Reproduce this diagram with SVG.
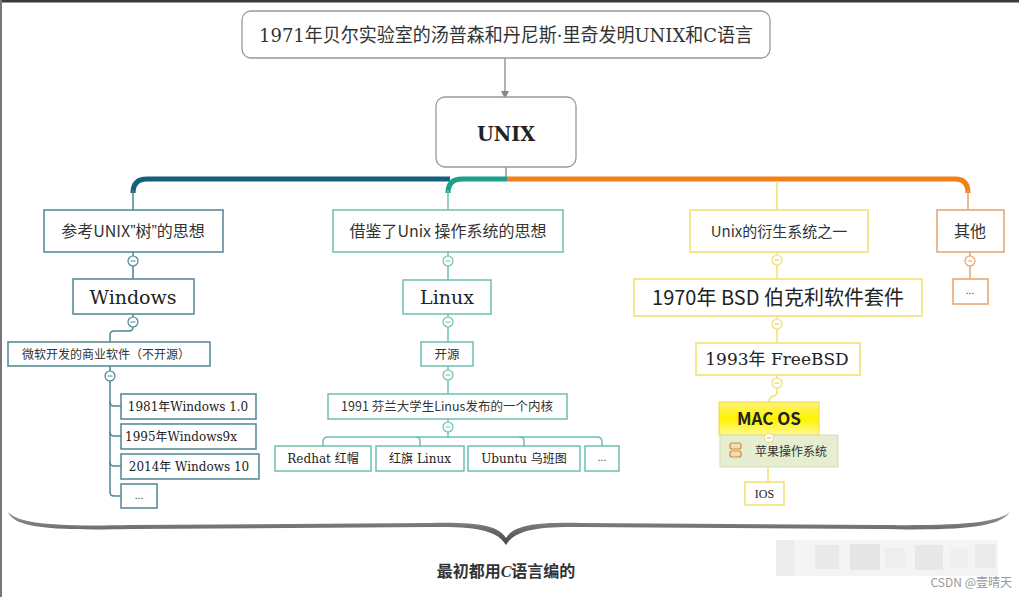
<svg xmlns="http://www.w3.org/2000/svg" width="1019" height="597" viewBox="0 0 1019 597">
<defs>
<style>
.cjk{font-family:"Noto Sans CJK SC","Noto Sans",sans-serif;fill:#333;}
.slab{font-family:"DejaVu Serif","Noto Sans CJK SC",serif;fill:#222;}
.n1{fill:#fff;stroke:#4d8593;stroke-width:1.5;}
.n2{fill:#fff;stroke:#6ebfb2;stroke-width:1.5;}
.n3{fill:#fff;stroke:#f2df6a;stroke-width:1.5;}
.n4{fill:#fff;stroke:#e6a36a;stroke-width:1.5;}
.c1{fill:none;stroke:#4d8593;stroke-width:1.5;}
.c2{fill:none;stroke:#6ebfb2;stroke-width:1.5;}
.c3{fill:none;stroke:#f2df6a;stroke-width:1.5;}
.c4{fill:none;stroke:#e6a36a;stroke-width:1.5;}
.dot{fill:#fff;stroke-width:1.2;}
</style>
<linearGradient id="macg" x1="0" y1="0" x2="0" y2="1">
<stop offset="0" stop-color="#fff27a"/><stop offset="0.5" stop-color="#fff200"/><stop offset="1" stop-color="#fffa90"/>
</linearGradient>
<linearGradient id="braceg" x1="0" y1="0" x2="0" y2="1">
<stop offset="0" stop-color="#9a9a9a"/><stop offset="1" stop-color="#444"/>
</linearGradient>
<marker id="arr" markerWidth="10" markerHeight="10" refX="5" refY="5" orient="auto" markerUnits="userSpaceOnUse">
<path d="M1,1 L9,5 L1,9 Z" fill="#888"/>
</marker>
</defs>
<rect width="1019" height="597" fill="#fff"/>
<rect x="0" y="0" width="1019" height="2.5" fill="#3a3a3a"/>
<rect x="0" y="0" width="2" height="597" fill="#777"/>

<g id="connectors">
<line x1="505" y1="58" x2="505" y2="95" stroke="#888" stroke-width="1.3" marker-end="url(#arr)"/>
<line x1="506" y1="167" x2="506" y2="180" stroke="#777" stroke-width="1.2"/>
<path d="M133,193 Q133,179 147,179 H450" fill="none" stroke="#165f7f" stroke-width="5"/>
<path d="M448,193 Q448,179 462,179 H507" fill="none" stroke="#1ea08b" stroke-width="5"/>
<path d="M507,179 H955 Q968,179 968,193" fill="none" stroke="#f27f18" stroke-width="5"/>
<line x1="133" y1="190" x2="133" y2="210" class="c1"/>
<line x1="448" y1="190" x2="448" y2="210" class="c2"/>
<line x1="777" y1="181" x2="777" y2="210" class="c3"/>
<line x1="968" y1="190" x2="968" y2="210" class="c4"/>
<line x1="133" y1="252" x2="133" y2="279" class="c1"/>
<path d="M133,314 V327 Q133,331 129,331 H114 Q110,331 110,335 V342" class="c1"/>
<path d="M110,366 V492 Q110,496 114,496 H121" class="c1"/>
<path d="M110,402 Q110,406 114,406 H121" class="c1"/>
<path d="M110,432 Q110,436 114,436 H121" class="c1"/>
<path d="M110,462 Q110,466 114,466 H121" class="c1"/>
<line x1="448" y1="252" x2="448" y2="280" class="c2"/>
<line x1="448" y1="314" x2="448" y2="342" class="c2"/>
<line x1="448" y1="366" x2="448" y2="394" class="c2"/>
<line x1="448" y1="419" x2="448" y2="437" class="c2"/>
<path d="M323,446 V442 Q323,437 328,437 H597 Q602,437 602,442 V446" class="c2"/>
<path d="M416,437 Q420,437 420,441 V446" class="c2"/>
<path d="M519,437 Q524,437 524,441 V446" class="c2"/>
<line x1="777" y1="252" x2="777" y2="279" class="c3"/>
<line x1="777" y1="316" x2="777" y2="343" class="c3"/>
<path d="M777,375 V391 Q777,396 773,396 Q769,397 769,402" class="c3"/>
<line x1="768" y1="435" x2="768" y2="482" class="c3"/>
<line x1="970" y1="252" x2="970" y2="279" class="c4"/>
</g>

<g id="node-top">
<rect x="242" y="11" width="528" height="47" rx="9" fill="#fff" stroke="#999" stroke-width="1.3"/>
<text x="506" y="42" text-anchor="middle" font-size="19" class="cjk" style="font-family:'DejaVu Serif','Noto Sans CJK SC',serif" textLength="494" lengthAdjust="spacingAndGlyphs">1971年贝尔实验室的汤普森和丹尼斯·里奇发明UNIX和C语言</text>
</g>
<g id="node-unix">
<rect x="436" y="97" width="140" height="70" rx="9" fill="#fff" stroke="#999" stroke-width="1.3"/>
<text x="506" y="141" text-anchor="middle" font-size="21" font-weight="bold" class="slab" textLength="58" lengthAdjust="spacingAndGlyphs">UNIX</text>
</g>

<g id="node-ref-unix">
<rect x="44" y="210" width="179" height="42" class="n1"/>
<text x="133" y="237" text-anchor="middle" font-size="16" class="cjk">参考UNIX<tspan style="font-family:'Liberation Sans',sans-serif">”</tspan>树<tspan style="font-family:'Liberation Sans',sans-serif">”</tspan>的思想</text>
<circle cx="133" cy="261" r="5" class="dot" stroke="#4d8593"/><line x1="130.5" y1="261" x2="135.5" y2="261" stroke="#4d8593"/>
</g>
<g id="node-windows">
<rect x="73" y="279" width="121" height="35" class="n1"/>
<text x="133" y="304" text-anchor="middle" font-size="19" class="slab">Windows</text>
<circle cx="133" cy="322" r="5" class="dot" stroke="#4d8593"/><line x1="130.5" y1="322" x2="135.5" y2="322" stroke="#4d8593"/>
</g>
<g id="node-ms">
<rect x="8" y="342" width="202" height="24" class="n1"/>
<text x="106" y="359" text-anchor="middle" font-size="12" class="cjk">微软开发的商业软件（不开源）</text>
<circle cx="110" cy="376" r="5" class="dot" stroke="#4d8593"/><line x1="107.5" y1="376" x2="112.5" y2="376" stroke="#4d8593"/>
</g>
<g id="node-win1">
<rect x="121" y="394" width="135" height="25" class="n1"/>
<text x="188" y="411" text-anchor="middle" font-size="12" class="slab">1981年Windows 1.0</text>
</g>
<g id="node-win9x">
<rect x="121" y="424" width="135" height="25" class="n1"/>
<text x="181" y="441" text-anchor="middle" font-size="12" class="slab">1995年Windows9x</text>
</g>
<g id="node-win10">
<rect x="121" y="454" width="138" height="25" class="n1"/>
<text x="189" y="471" text-anchor="middle" font-size="12" class="slab">2014年 Windows 10</text>
</g>
<g id="node-win-more">
<rect x="121" y="484" width="36" height="24" class="n1"/>
<text x="139" y="499" text-anchor="middle" font-size="10" class="cjk">...</text>
</g>

<g id="node-ref-unix-os">
<rect x="333" y="210" width="230" height="42" class="n2"/>
<text x="448" y="237" text-anchor="middle" font-size="16" class="cjk">借鉴了Unix 操作系统的思想</text>
<circle cx="448" cy="261" r="5" class="dot" stroke="#6ebfb2"/><line x1="445.5" y1="261" x2="450.5" y2="261" stroke="#6ebfb2"/>
</g>
<g id="node-linux">
<rect x="403" y="280" width="88" height="34" class="n2"/>
<text x="447" y="304" text-anchor="middle" font-size="19" class="slab">Linux</text>
<circle cx="448" cy="322" r="5" class="dot" stroke="#6ebfb2"/><line x1="445.5" y1="322" x2="450.5" y2="322" stroke="#6ebfb2"/>
</g>
<g id="node-opensource">
<rect x="421" y="342" width="52" height="24" class="n2"/>
<text x="447" y="359" text-anchor="middle" font-size="12.5" class="cjk">开源</text>
<circle cx="448" cy="375" r="5" class="dot" stroke="#6ebfb2"/><line x1="445.5" y1="375" x2="450.5" y2="375" stroke="#6ebfb2"/>
</g>
<g id="node-kernel">
<rect x="328" y="394" width="239" height="25" class="n2"/>
<text x="447" y="411" text-anchor="middle" font-size="12.5" class="cjk">1991 芬兰大学生Linus发布的一个内核</text>
<circle cx="448" cy="427" r="5" class="dot" stroke="#6ebfb2"/><line x1="445.5" y1="427" x2="450.5" y2="427" stroke="#6ebfb2"/>
</g>
<g id="node-redhat">
<rect x="275" y="446" width="96" height="25" class="n2"/>
<text x="323" y="463" text-anchor="middle" font-size="12" class="slab">Redhat 红帽</text>
</g>
<g id="node-redflag">
<rect x="376" y="446" width="88" height="25" class="n2"/>
<text x="420" y="463" text-anchor="middle" font-size="12" class="slab">红旗 Linux</text>
</g>
<g id="node-ubuntu">
<rect x="468" y="446" width="112" height="25" class="n2"/>
<text x="524" y="463" text-anchor="middle" font-size="12" class="slab">Ubuntu 乌班图</text>
</g>
<g id="node-linux-more">
<rect x="585" y="446" width="34" height="25" class="n2"/>
<text x="602" y="461" text-anchor="middle" font-size="10" class="cjk">...</text>
</g>

<g id="node-derivative">
<rect x="690" y="210" width="178" height="42" class="n3"/>
<text x="779" y="237" text-anchor="middle" font-size="15" class="cjk">Unix的衍生系统之一</text>
<circle cx="777" cy="260" r="5" class="dot" stroke="#f2df6a"/><line x1="774.5" y1="260" x2="779.5" y2="260" stroke="#e6c24a"/>
</g>
<g id="node-bsd">
<rect x="634" y="279" width="288" height="37" class="n3"/>
<text x="778" y="305" text-anchor="middle" font-size="20" class="cjk" style="fill:#222">1970年 BSD 伯克利软件套件</text>
<circle cx="777" cy="324" r="5" class="dot" stroke="#f2df6a"/><line x1="774.5" y1="324" x2="779.5" y2="324" stroke="#e6c24a"/>
</g>
<g id="node-freebsd">
<rect x="696" y="343" width="164" height="32" class="n3"/>
<text x="777" y="365" text-anchor="middle" font-size="17" class="slab">1993年 FreeBSD</text>
<circle cx="777" cy="383" r="5" class="dot" stroke="#f2df6a"/><line x1="774.5" y1="383" x2="779.5" y2="383" stroke="#e6c24a"/>
</g>
<g id="node-macos">
<rect x="719" y="402" width="100" height="33" fill="url(#macg)" stroke="#e8d84a" stroke-width="1"/>
<text x="769" y="425" text-anchor="middle" font-size="17" font-weight="bold" class="cjk" style="fill:#222">MAC OS</text>
<rect x="720" y="435" width="118" height="32" fill="#e5eed0" stroke="#d3ddb8" stroke-width="1"/>
<rect x="730" y="443" width="11" height="6" rx="2" fill="#f3dcae" stroke="#c98f3e" stroke-width="1.2"/>
<rect x="730" y="451" width="11" height="6" rx="2" fill="#f3dcae" stroke="#c98f3e" stroke-width="1.2"/>
<text x="755" y="456" font-size="12" class="cjk">苹果操作系统</text>
<circle cx="769" cy="438" r="4.5" class="dot" stroke="#f2df6a"/><line x1="767" y1="438" x2="771" y2="438" stroke="#c9a0c0"/>
</g>
<g id="node-ios">
<rect x="745" y="482" width="39" height="23" class="n3"/>
<text x="764.5" y="498" text-anchor="middle" font-size="12" class="slab" style="font-family:'Liberation Serif',serif">IOS</text>
</g>

<g id="node-other">
<rect x="937" y="210" width="67" height="42" class="n4"/>
<text x="970" y="237" text-anchor="middle" font-size="16" class="cjk">其他</text>
<circle cx="970" cy="261" r="5" class="dot" stroke="#e6a36a"/><line x1="967.5" y1="261" x2="972.5" y2="261" stroke="#e6a36a"/>
</g>
<g id="node-other-more">
<rect x="953" y="279" width="35" height="25" class="n4"/>
<text x="970" y="294" text-anchor="middle" font-size="10" class="cjk">...</text>
</g>

<g id="brace">
<path d="M8,512 C14,526 40,531 130,529 L430,527 C478,526 498,531 506,545 C514,531 534,526 582,527 L880,529 C970,531 1000,526 1010,512 C998,522 968,526 880,525 L582,523 C536,522 514,525 506,538 C498,525 476,522 430,523 L130,525 C42,527 18,522 8,512 Z" fill="url(#braceg)"/>
<text x="506" y="577" text-anchor="middle" font-size="16" font-weight="bold" style="font-family:'Liberation Serif','Noto Sans CJK SC',serif;fill:#333">最初都用<tspan font-style="italic">C</tspan>语言编的</text>
</g>

<g id="mosaic">
<rect x="776" y="540" width="222" height="36" fill="#f4f4f4"/>
<rect x="776" y="540" width="18" height="36" fill="#ececec"/>
<rect x="815" y="545" width="24" height="24" fill="#e9e9e9"/>
<rect x="850" y="544" width="30" height="26" fill="#e6e6e6"/>
<rect x="885" y="548" width="20" height="20" fill="#eeeeee"/>
<rect x="915" y="545" width="28" height="25" fill="#e8e8e8"/>
<rect x="950" y="548" width="18" height="20" fill="#efefef"/>
<rect x="975" y="544" width="20" height="24" fill="#eaeaea"/>
</g>
<text x="1012" y="587" text-anchor="end" font-size="12" style="font-family:'Noto Sans CJK SC',sans-serif;fill:#999">CSDN @壹晴天</text>
</svg>
